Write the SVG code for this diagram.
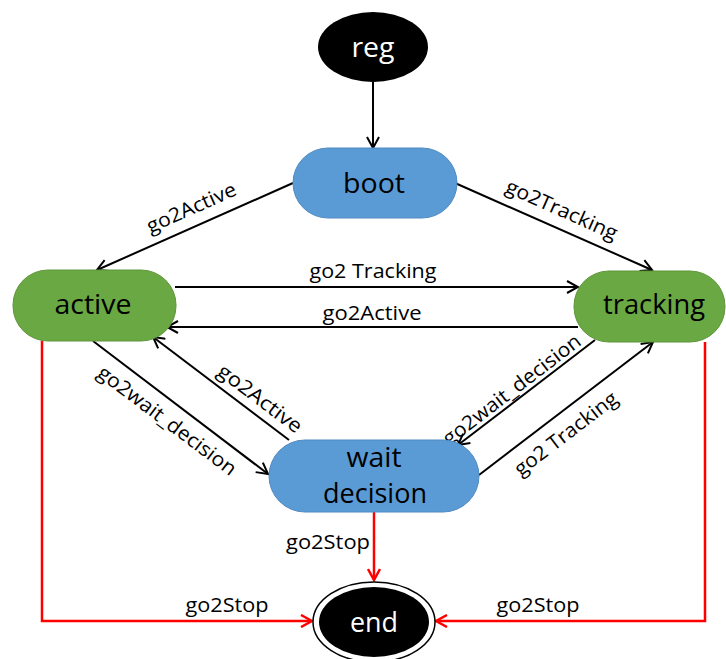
<svg xmlns="http://www.w3.org/2000/svg" width="726" height="659" viewBox="0 0 726 659">
  <style>
    .node-text { font-family: "Open Sans", "Liberation Sans", sans-serif; font-size: 27px; fill: #000; text-anchor: middle; }
    .white { fill: #fff; }
    .label { font-family: "Open Sans", "Liberation Sans", sans-serif; font-size: 20px; fill: #000; text-anchor: middle; }
    .blue { fill: #5b9bd5; stroke: #4f8ac0; stroke-width: 1; }
    .green { fill: #6aa843; stroke: #5e963b; stroke-width: 1; }
    .edge { fill: none; stroke: #000; stroke-width: 2; marker-end: url(#arrow); }
    .stop { fill: none; stroke: #ff0000; stroke-width: 2.5; marker-end: url(#arrowRed); }
  </style>
  <defs>
    <marker id="arrow" markerUnits="userSpaceOnUse" viewBox="0 0 14 14" markerWidth="14" markerHeight="14" refX="12" refY="7" orient="auto">
      <path d="M1,1 L12,7 L1,13" fill="none" stroke="#000" stroke-width="2"/>
    </marker>
    <marker id="arrowRed" markerUnits="userSpaceOnUse" viewBox="0 0 14 14" markerWidth="14" markerHeight="14" refX="12" refY="7" orient="auto">
      <path d="M1,1 L12,7 L1,13" fill="none" stroke="#ff0000" stroke-width="2.5"/>
    </marker>
  </defs>
  <rect width="726" height="659" fill="#fff"/>

  <!-- transitions -->
  <g id="connectors">
    <line class="edge" x1="373" y1="82" x2="373" y2="148"/>
    <line class="edge" x1="293" y1="183" x2="97" y2="270"/>
    <line class="edge" x1="455" y1="183" x2="652" y2="270"/>
    <line class="edge" x1="175" y1="287" x2="578" y2="287"/>
    <line class="edge" x1="578" y1="327" x2="167" y2="327"/>
    <line class="edge" x1="93" y1="341" x2="268" y2="474"/>
    <line class="edge" x1="289" y1="440" x2="153" y2="337"/>
    <line class="edge" x1="595" y1="340" x2="458" y2="445"/>
    <line class="edge" x1="479" y1="475" x2="653" y2="342"/>
    <path class="stop" d="M42,341 V621 H312"/>
    <path class="stop" d="M705,342 V621 H436"/>
    <path class="stop" d="M374,512 V580"/>

    <text class="label" transform="translate(194,214) rotate(-24)" textLength="96" lengthAdjust="spacingAndGlyphs">go2Active</text>
    <text class="label" transform="translate(559,216) rotate(24)" textLength="120" lengthAdjust="spacingAndGlyphs">go2Tracking</text>
    <text class="label" x="373" y="278" textLength="127" lengthAdjust="spacingAndGlyphs">go2 Tracking</text>
    <text class="label" x="372" y="320" textLength="99" lengthAdjust="spacingAndGlyphs">go2Active</text>
    <text class="label" transform="translate(163,426) rotate(37)" textLength="168" lengthAdjust="spacingAndGlyphs">go2wait_decision</text>
    <text class="label" transform="translate(256,404) rotate(37)" textLength="100" lengthAdjust="spacingAndGlyphs">go2Active</text>
    <text class="label" transform="translate(516,395) rotate(-37.5)" textLength="168" lengthAdjust="spacingAndGlyphs">go2wait_decision</text>
    <text class="label" transform="translate(570,439) rotate(-37.5)" textLength="124" lengthAdjust="spacingAndGlyphs">go2 Tracking</text>
    <text class="label" x="328" y="549" textLength="84" lengthAdjust="spacingAndGlyphs">go2Stop</text>
    <text class="label" x="227" y="612" textLength="83" lengthAdjust="spacingAndGlyphs">go2Stop</text>
    <text class="label" x="538" y="612" textLength="83" lengthAdjust="spacingAndGlyphs">go2Stop</text>
  </g>

  <g id="reg">
    <ellipse cx="373" cy="47" rx="55" ry="35" fill="#000"/>
    <text class="node-text white" x="373" y="57" textLength="43" lengthAdjust="spacingAndGlyphs">reg</text>
  </g>

  <g id="boot">
    <rect class="blue" x="293" y="148" width="164" height="70" rx="35" ry="35"/>
    <text class="node-text" x="374" y="193" textLength="62" lengthAdjust="spacingAndGlyphs">boot</text>
  </g>

  <g id="active">
    <rect class="green" x="13" y="270" width="163" height="71" rx="35" ry="35"/>
    <text class="node-text" x="93" y="314" textLength="77" lengthAdjust="spacingAndGlyphs">active</text>
  </g>

  <g id="tracking">
    <rect class="green" x="574" y="271" width="151" height="71" rx="35" ry="35"/>
    <text class="node-text" x="654" y="314" textLength="102" lengthAdjust="spacingAndGlyphs">tracking</text>
  </g>

  <g id="wait_decision">
    <rect class="blue" x="269" y="440" width="210" height="72" rx="36" ry="36"/>
    <text class="node-text" x="374" y="467" textLength="55" lengthAdjust="spacingAndGlyphs">wait</text>
    <text class="node-text" x="375" y="503" textLength="104" lengthAdjust="spacingAndGlyphs">decision</text>
  </g>

  <g id="end">
    <ellipse cx="374" cy="622" rx="61" ry="40" fill="#fff" stroke="#000" stroke-width="1.5"/>
    <ellipse cx="374" cy="622" rx="55" ry="35" fill="#000"/>
    <text class="node-text white" x="374" y="632" textLength="48" lengthAdjust="spacingAndGlyphs">end</text>
  </g>
</svg>
